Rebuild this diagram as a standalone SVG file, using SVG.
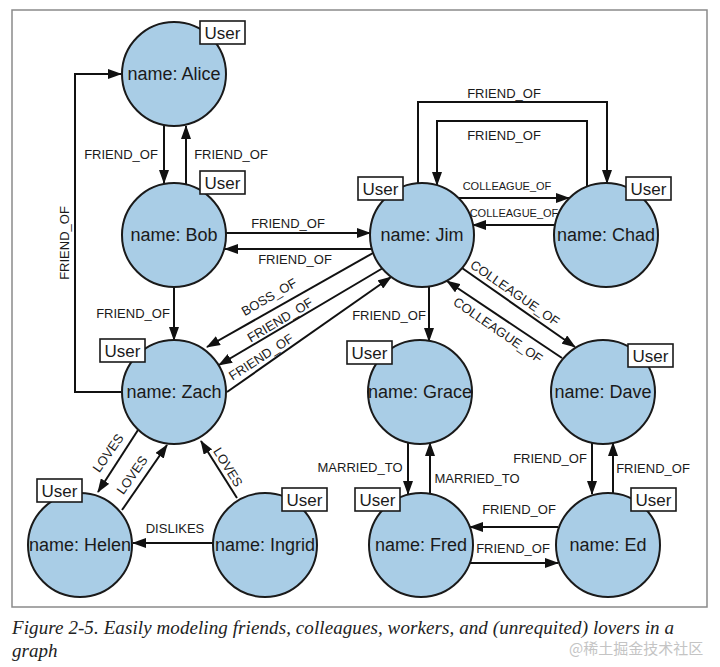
<svg xmlns="http://www.w3.org/2000/svg" width="720" height="667" viewBox="0 0 720 667">
<style>
.node circle{fill:#a9cde6;stroke:#1a1a1a;stroke-width:2}
.nm{font-family:"Liberation Sans",Arial,sans-serif;font-size:18px;fill:#1a1a1a;text-anchor:middle}
.tag rect{fill:#fff;stroke:#1a1a1a;stroke-width:1.6}
.tag text{font-family:"Liberation Sans",Arial,sans-serif;font-size:17px;fill:#1a1a1a;text-anchor:middle}
.edges path{fill:none;stroke:#111;stroke-width:2;marker-end:url(#ah)}
.lb{font-family:"Liberation Sans",Arial,sans-serif;font-size:13px;fill:#1a1a1a;text-anchor:middle}
.lbs{font-family:"Liberation Sans",Arial,sans-serif;font-size:11px;fill:#1a1a1a;text-anchor:middle}
.cap{font-family:"Liberation Serif","Times New Roman",serif;font-style:italic;font-size:19px;fill:#222}
</style>
<defs>
<marker id="ah" viewBox="0 0 14 10" refX="13" refY="5" markerWidth="14" markerHeight="10" markerUnits="userSpaceOnUse" orient="auto">
<path d="M0,0 L14,5 L0,10 Z" fill="#111"/>
</marker>
</defs>
<rect width="720" height="667" fill="#fff"/>
<rect x="12" y="10" width="695" height="597" fill="none" stroke="#8a8a8a" stroke-width="1.5"/>

<g class="edges">
<path d="M164,126 L164,183"/>
<path d="M186,184 L186,126"/>
<path d="M122,392 L75,392 L75,74 L121,74"/>
<path d="M174,287 L174,340"/>
<path d="M226,233 L370,233"/>
<path d="M372,249 L225,249"/>
<path d="M373,253 L207,347"/>
<path d="M383,268 L219,365"/>
<path d="M227,392 L391,277"/>
<path d="M458,198 L569,198"/>
<path d="M555,225 L473,225"/>
<path d="M418,183 L418,102 L607,102 L607,183"/>
<path d="M587,187 L587,121 L437,121 L437,185"/>
<path d="M429,286 L429,341"/>
<path d="M462,268 L575,347"/>
<path d="M562,358 L447,281"/>
<path d="M408,443 L408,494"/>
<path d="M430,494 L430,443"/>
<path d="M592,443 L592,494"/>
<path d="M613,493 L613,443"/>
<path d="M558,527 L470,527"/>
<path d="M470,563 L558,563"/>
<path d="M138,430 L98,492"/>
<path d="M122,510 L167,445"/>
<path d="M237,498 L201,441"/>
<path d="M213,543 L133,543"/>
</g>

<g id="edge-labels">
<text class="lb" x="121" y="159">FRIEND_OF</text>
<text class="lb" x="231" y="159">FRIEND_OF</text>
<text class="lb" transform="translate(64,243) rotate(-90)" y="4.5">FRIEND_OF</text>
<text class="lb" x="133" y="318">FRIEND_OF</text>
<text class="lb" x="288" y="228">FRIEND_OF</text>
<text class="lb" x="295" y="264">FRIEND_OF</text>
<text class="lb" transform="translate(269,297) rotate(-30)" y="4.5">BOSS_OF</text>
<text class="lb" transform="translate(280,320) rotate(-31)" y="4.5">FRIEND_OF</text>
<text class="lb" transform="translate(261,357) rotate(-33)" y="4.5">FRIEND_OF</text>
<text class="lbs" x="507" y="190">COLLEAGUE_OF</text>
<text class="lbs" x="514" y="217">COLLEAGUE_OF</text>
<text class="lb" x="504" y="98">FRIEND_OF</text>
<text class="lb" x="504" y="140">FRIEND_OF</text>
<text class="lb" x="389" y="320">FRIEND_OF</text>
<text class="lb" transform="translate(515,293) rotate(34.5)" y="4.5">COLLEAGUE_OF</text>
<text class="lb" transform="translate(498,330) rotate(34.5)" y="4.5">COLLEAGUE_OF</text>
<text class="lb" x="360" y="472">MARRIED_TO</text>
<text class="lb" x="477" y="483">MARRIED_TO</text>
<text class="lb" x="550" y="463">FRIEND_OF</text>
<text class="lb" x="653" y="473">FRIEND_OF</text>
<text class="lb" x="519" y="514">FRIEND_OF</text>
<text class="lb" x="513" y="553">FRIEND_OF</text>
<text class="lb" transform="translate(108,453) rotate(-55)" y="4.5">LOVES</text>
<text class="lb" transform="translate(132,475) rotate(-55)" y="4.5">LOVES</text>
<text class="lb" transform="translate(228,467) rotate(58)" y="4.5">LOVES</text>
<text class="lb" x="175" y="533">DISLIKES</text>
</g>

<g id="alice" class="node"><circle cx="174" cy="74" r="52"/><text class="nm" x="174" y="80">name: Alice</text>
<g class="tag"><rect x="200" y="21" width="45" height="23"/><text x="222.5" y="39">User</text></g></g>
<g id="bob" class="node"><circle cx="174" cy="235" r="52"/><text class="nm" x="174" y="241">name: Bob</text>
<g class="tag"><rect x="200" y="171" width="45" height="23"/><text x="222.5" y="189">User</text></g></g>
<g id="jim" class="node"><circle cx="422" cy="235" r="52"/><text class="nm" x="422" y="241">name: Jim</text>
<g class="tag"><rect x="358" y="177" width="45" height="23"/><text x="380.5" y="195">User</text></g></g>
<g id="chad" class="node"><circle cx="606" cy="235" r="52"/><text class="nm" x="606" y="241">name: Chad</text>
<g class="tag"><rect x="626" y="177" width="45" height="23"/><text x="648.5" y="195">User</text></g></g>
<g id="zach" class="node"><circle cx="174" cy="392" r="52"/><text class="nm" x="174" y="398">name: Zach</text>
<g class="tag"><rect x="100" y="339" width="45" height="23"/><text x="122.5" y="357">User</text></g></g>
<g id="grace" class="node"><circle cx="420" cy="392" r="52"/><text class="nm" x="420" y="398">name: Grace</text>
<g class="tag"><rect x="347" y="341" width="45" height="23"/><text x="369.5" y="359">User</text></g></g>
<g id="dave" class="node"><circle cx="603" cy="392" r="52"/><text class="nm" x="603" y="398">name: Dave</text>
<g class="tag"><rect x="628" y="344" width="45" height="23"/><text x="650.5" y="362">User</text></g></g>
<g id="helen" class="node"><circle cx="80" cy="545" r="52"/><text class="nm" x="80" y="551">name: Helen</text>
<g class="tag"><rect x="37" y="479" width="45" height="23"/><text x="59.5" y="497">User</text></g></g>
<g id="ingrid" class="node"><circle cx="265" cy="545" r="52"/><text class="nm" x="265" y="551">name: Ingrid</text>
<g class="tag"><rect x="282" y="488" width="45" height="23"/><text x="304.5" y="506">User</text></g></g>
<g id="fred" class="node"><circle cx="421" cy="545" r="52"/><text class="nm" x="421" y="551">name: Fred</text>
<g class="tag"><rect x="355" y="488" width="45" height="23"/><text x="377.5" y="506">User</text></g></g>
<g id="ed" class="node"><circle cx="608" cy="545" r="52"/><text class="nm" x="608" y="551">name: Ed</text>
<g class="tag"><rect x="631" y="488" width="45" height="23"/><text x="653.5" y="506">User</text></g></g>

<g id="caption">
<text class="cap" x="12" y="634" textLength="662" lengthAdjust="spacing">Figure 2-5. Easily modeling friends, colleagues, workers, and (unrequited) lovers in a</text>
<text class="cap" x="12" y="657">graph</text>
<text x="569" y="654" font-family="'Noto Sans CJK SC',sans-serif" font-size="15" fill="#c4c4c4">@稀土掘金技术社区</text>
</g>
</svg>
